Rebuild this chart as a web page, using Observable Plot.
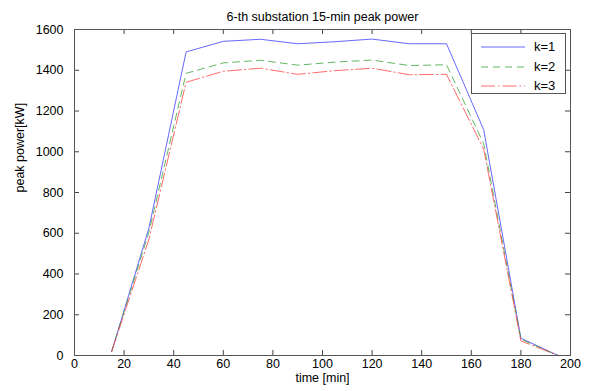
<!DOCTYPE html>
<html>
<head>
<meta charset="utf-8">
<script src="https://cdn.jsdelivr.net/npm/d3@7"></script>
<script src="https://cdn.jsdelivr.net/npm/@observablehq/plot@0.6"></script>
<style>
  html, body { margin: 0; padding: 0; background: #fff; }
  #wrap { position: relative; width: 590px; height: 391px; font-family: "Liberation Sans", Arial, sans-serif; }
  #legend { position: absolute; left: 471px; top: 33px; width: 95px; height: 61px; background: #fff; border: 1px solid #555; box-sizing: border-box; font-size: 13px; color: #000; }
  .row { position: absolute; left: 0; height: 20px; width: 100%; }
  .row svg { position: absolute; left: 8px; top: 5px; }
  .row span { position: absolute; left: 62px; top: 2px; }
</style>
</head>
<body>
<div id="wrap"></div>
<script>
const times = [15, 30, 45, 60, 75, 90, 105, 120, 135, 150, 165, 180, 195];
const k1 = [20, 625, 1490, 1542, 1552, 1530, 1540, 1553, 1530, 1530, 1108, 85, 0];
const k2 = [20, 605, 1385, 1436, 1449, 1425, 1440, 1450, 1423, 1427, 1040, 80, 0];
const k3 = [20, 570, 1341, 1395, 1410, 1380, 1398, 1410, 1378, 1380, 1012, 72, 0];
const seriesNames = ["k=1", "k=2", "k=3"];
const seriesColors = ["#3535ff", "#2e9e2e", "#ff3b3b"];
const seriesDash = [null, "7,5", "14,3,1.5,3"];
const xTicks = [0, 20, 40, 60, 80, 100, 120, 140, 160, 180, 200];
const yTicks = [0, 200, 400, 600, 800, 1000, 1200, 1400, 1600];

const W = 590, H = 391, mL = 74, mR = 20, mT = 29, mB = 36;
const innerW = W - mL - mR, innerH = H - mT - mB;
const series = [k1, k2, k3];
const data = [];
series.forEach((vals, s) => vals.forEach((v, i) => data.push({t: times[i], p: v, k: seriesNames[s]})));

const lineMarks = series.map((vals, s) =>
  Plot.line(data.filter(d => d.k === seriesNames[s]), {
    x: "t", y: "p", stroke: seriesColors[s], strokeWidth: 1, strokeOpacity: 0.75,
    strokeDasharray: seriesDash[s]
  })
);

const chart = Plot.plot({
  width: W, height: H,
  marginLeft: mL, marginRight: mR, marginTop: mT, marginBottom: mB,
  style: {fontFamily: "Liberation Sans, Arial, sans-serif", fontSize: "12.5px", color: "#000", background: "#fff"},
  x: {domain: [0, 200]},
  y: {domain: [0, 1600]},
  marks: [
    Plot.axisX(xTicks, {tickSize: 0, tickPadding: 4, label: null, fontSize: 12.5, tickFormat: d3.format("d")}),
    Plot.axisY(yTicks, {tickSize: 0, tickPadding: 11, label: null, fontSize: 12.5, tickFormat: d3.format("d")}),
    Plot.tickX(xTicks, {x: d => d, insetTop: innerH - 5, stroke: "#444"}),
    Plot.tickX(xTicks, {x: d => d, insetBottom: innerH - 5, stroke: "#444"}),
    Plot.tickY(yTicks, {y: d => d, insetRight: innerW - 5, stroke: "#444"}),
    Plot.tickY(yTicks, {y: d => d, insetLeft: innerW - 5, stroke: "#444"}),
    ...lineMarks,
    Plot.frame({stroke: "#555"}),
    Plot.text(["6-th substation 15-min peak power"], {frameAnchor: "top", dy: -17, fontSize: 12.5, text: d => d}),
    Plot.text(["time [min]"], {frameAnchor: "bottom", dy: 26, fontSize: 12.5, text: d => d}),
    Plot.text(["peak power[kW]"], {frameAnchor: "left", dx: -55, rotate: -90, fontSize: 12.5, text: d => d})
  ]
});
const wrap = document.getElementById("wrap");
wrap.appendChild(chart);

const legend = document.createElement("div");
legend.id = "legend";
seriesNames.forEach((name, s) => {
  const row = document.createElement("div");
  row.className = "row";
  row.style.top = (3 + s * 19.5) + "px";
  const dash = seriesDash[s] ? ` stroke-dasharray="${seriesDash[s]}"` : "";
  row.innerHTML = `<svg width="46" height="10"><line x1="1" y1="5" x2="45" y2="5" stroke="${seriesColors[s]}" stroke-opacity="0.75" stroke-width="1"${dash}/></svg><span>${name}</span>`;
  legend.appendChild(row);
});
wrap.appendChild(legend);
</script>
</body>
</html>
